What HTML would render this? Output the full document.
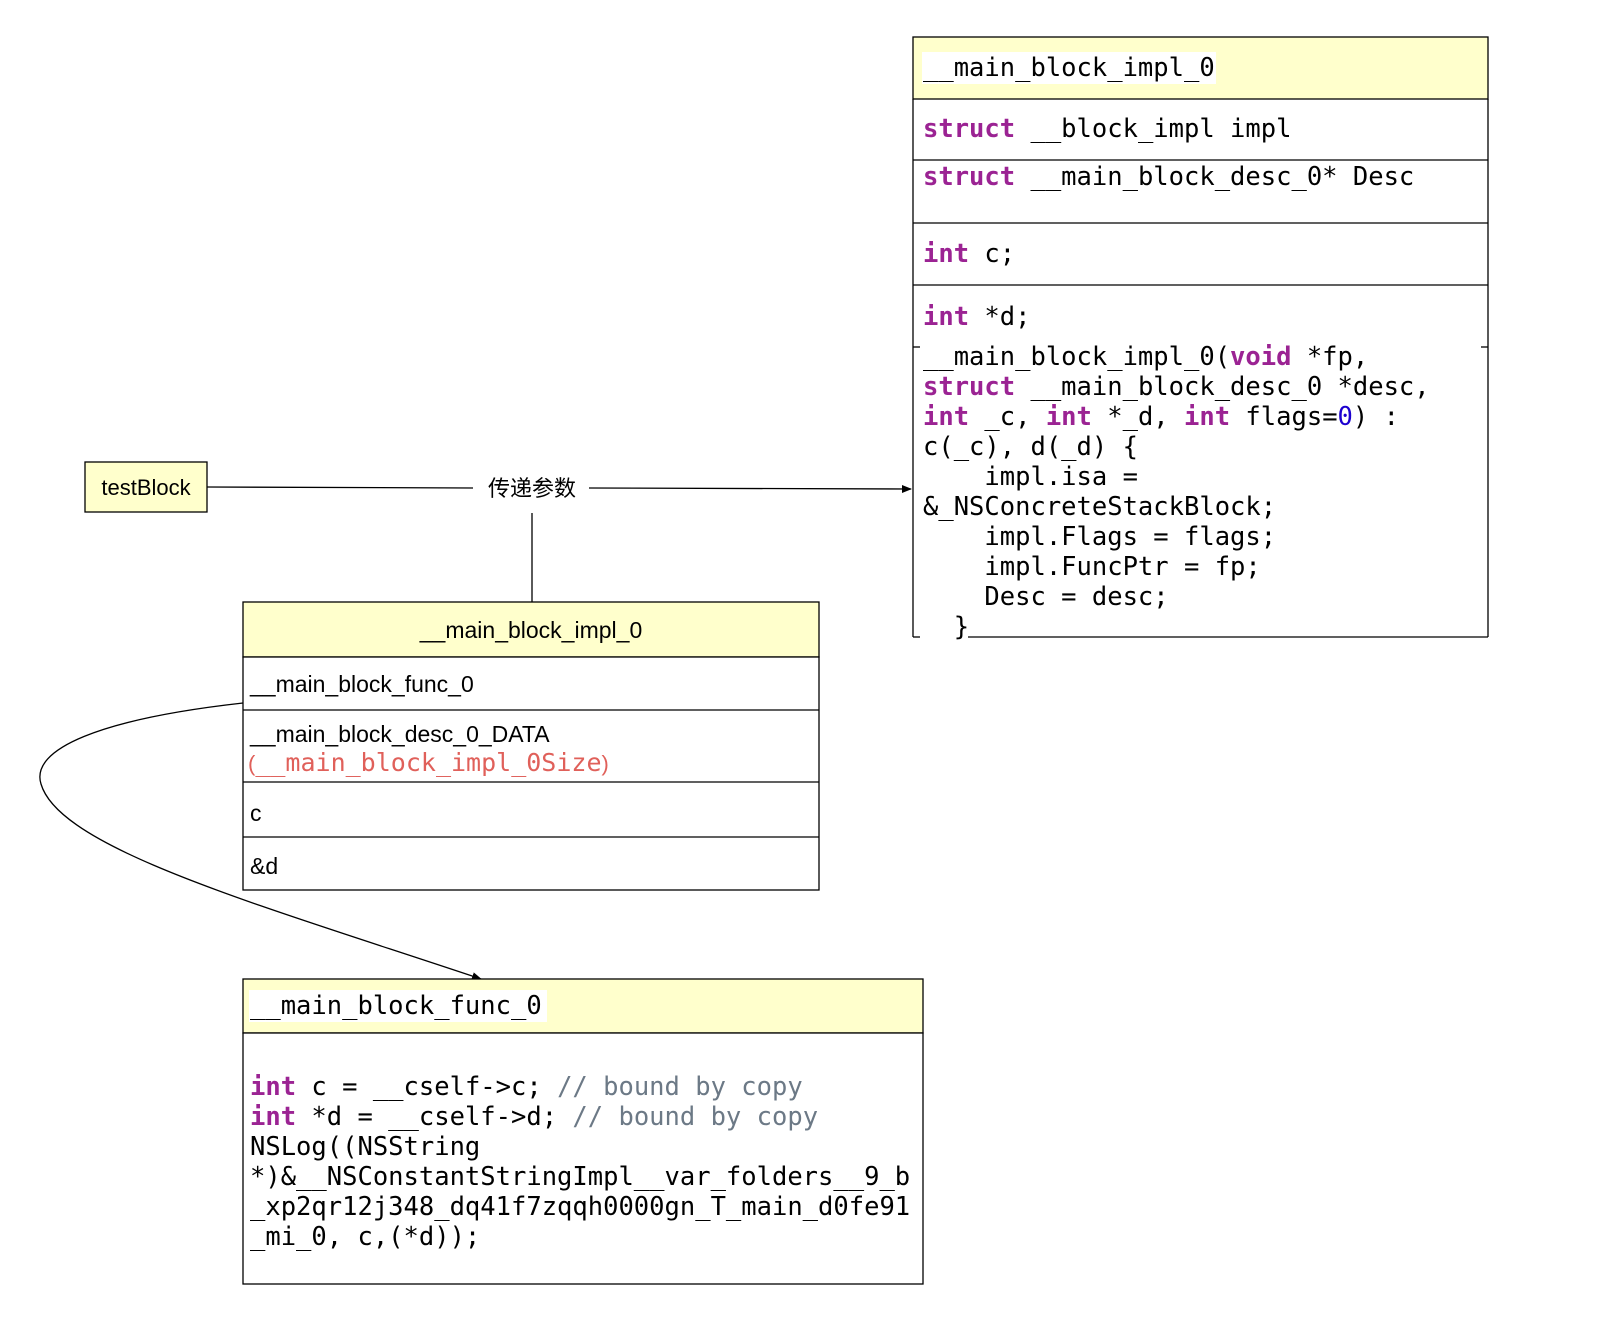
<!DOCTYPE html>
<html><head><meta charset="utf-8"><style>
html,body{margin:0;padding:0;background:#fff;width:1604px;height:1336px;overflow:hidden}
.m{font-family:"DejaVu Sans Mono","Liberation Mono",monospace}
.s{font-family:"Liberation Sans","Noto Sans CJK SC",sans-serif}
.k{fill:#9b2393;font-weight:bold}
.cm{fill:#6c7986}
</style></head><body>
<svg width="1604" height="1336" viewBox="0 0 1604 1336" xmlns="http://www.w3.org/2000/svg">
<defs><marker id="a" markerWidth="10" markerHeight="10" refX="9" refY="5" orient="auto" markerUnits="userSpaceOnUse"><path d="M0,1 L10,5 L0,9 z" fill="#000"/></marker></defs>
<g stroke="#000" stroke-width="1.3" fill="none">
<rect x="913" y="37" width="575" height="62" fill="#ffffcc"/>
<line x1="913" y1="99" x2="913" y2="637"/>
<line x1="1488" y1="99" x2="1488" y2="637"/>
<line x1="913" y1="160" x2="1488" y2="160"/>
<line x1="913" y1="223" x2="1488" y2="223"/>
<line x1="913" y1="285" x2="1488" y2="285"/>
<line x1="913" y1="347" x2="920" y2="347"/>
<line x1="1481" y1="347" x2="1488" y2="347"/>
<line x1="913" y1="637" x2="920" y2="637"/>
<line x1="968" y1="637" x2="1488" y2="637"/>
<rect x="85" y="462" width="122" height="50" fill="#ffffcc"/>
<line x1="207" y1="487" x2="473" y2="488"/>
<line x1="589" y1="488" x2="911" y2="489" marker-end="url(#a)"/>
<line x1="532" y1="513" x2="532" y2="602"/>
<rect x="243" y="602" width="576" height="55" fill="#ffffcc"/>
<rect x="243" y="657" width="576" height="233" fill="#fff"/>
<line x1="243" y1="710" x2="819" y2="710"/>
<line x1="243" y1="782" x2="819" y2="782"/>
<line x1="243" y1="837" x2="819" y2="837"/>
<path d="M243,703 C100,719 30,749 41,784 C60,849 260,905 481,979" marker-end="url(#a)"/>
<rect x="243" y="979" width="680" height="54" fill="#ffffcc"/>
<rect x="243" y="1033" width="680" height="251" fill="#fff"/>
</g>
<g class="m" font-size="25.5" fill="#000">
<rect x="922" y="52" width="294" height="32" fill="#fff"/>
<text x="923" y="76">__main_block_impl_0</text>
<text x="923" y="137"><tspan class="k">struct</tspan> __block_impl impl</text>
<text x="923" y="185"><tspan class="k">struct</tspan> __main_block_desc_0* Desc</text>
<text x="923" y="262"><tspan class="k">int</tspan> c;</text>
<text x="923" y="325"><tspan class="k">int</tspan> *d;</text>
<text x="923" y="365"> __main_block_impl_0(<tspan class="k">void</tspan> *fp,</text>
<text x="923" y="395"><tspan class="k">struct</tspan> __main_block_desc_0 *desc,</text>
<text x="923" y="425"><tspan class="k">int</tspan> _c, <tspan class="k">int</tspan> *_d, <tspan class="k">int</tspan> flags=<tspan fill="#1c00cf">0</tspan>) :</text>
<text x="923" y="455">c(_c), d(_d) {</text>
<text x="923" y="485" xml:space="preserve">    impl.isa =</text>
<text x="923" y="515">&amp;_NSConcreteStackBlock;</text>
<text x="923" y="545" xml:space="preserve">    impl.Flags = flags;</text>
<text x="923" y="575" xml:space="preserve">    impl.FuncPtr = fp;</text>
<text x="923" y="605" xml:space="preserve">    Desc = desc;</text>
<text x="923" y="635" xml:space="preserve">  }</text>
</g>
<text class="s" x="146" y="495" font-size="22" text-anchor="middle">testBlock</text>
<text class="s" x="532" y="496" font-size="22" text-anchor="middle">传递参数</text>
<g class="s" font-size="23">
<text x="531" y="638" text-anchor="middle">__main_block_impl_0</text>
<text x="250" y="692">__main_block_func_0</text>
<text x="250" y="742">__main_block_desc_0_DATA</text>
<text x="250" y="821">c</text>
<text x="250" y="874">&amp;d</text>
</g>
<text x="248" y="771" font-size="25" fill="#e0605a"><tspan class="s" font-size="22">(</tspan><tspan class="m">__main_block_impl_0Size</tspan><tspan class="s" font-size="22">)</tspan></text>
<g class="m" font-size="25.5" fill="#000">
<rect x="249" y="990" width="298" height="32" fill="#fff"/>
<text x="250" y="1014">__main_block_func_0</text>
<text x="250" y="1095"><tspan class="k">int</tspan> c = __cself-&gt;c; <tspan class="cm">// bound by copy</tspan></text>
<text x="250" y="1125"><tspan class="k">int</tspan> *d = __cself-&gt;d; <tspan class="cm">// bound by copy</tspan></text>
<text x="250" y="1155">NSLog((NSString</text>
<text x="250" y="1185">*)&amp;__NSConstantStringImpl__var_folders__9_b</text>
<text x="250" y="1215">_xp2qr12j348_dq41f7zqqh0000gn_T_main_d0fe91</text>
<text x="250" y="1245">_mi_0, c,(*d));</text>
</g>
</svg>
</body></html>
